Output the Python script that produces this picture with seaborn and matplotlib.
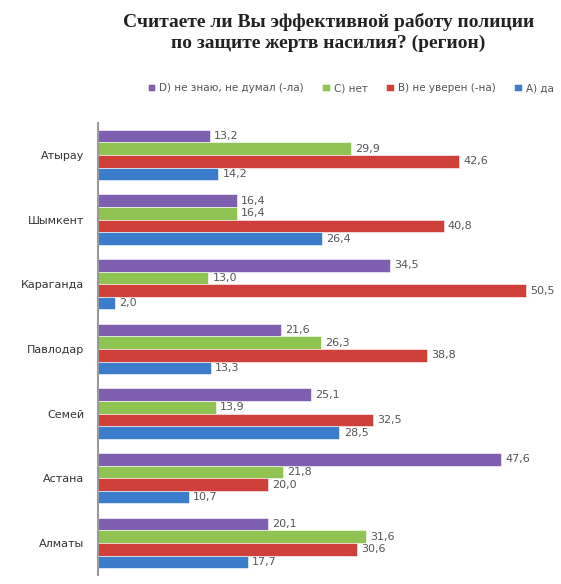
import matplotlib
matplotlib.use('Agg')
import matplotlib.pyplot as plt
import seaborn as sns
import pandas as pd

regions = ['Атырау', 'Шымкент', 'Караганда', 'Павлодар', 'Семей', 'Астана', 'Алматы']
answers = ['D) не знаю, не думал (-ла)', 'C) нет', 'B) не уверен (-на)', 'A) да']
d_vals = [13.2, 16.4, 34.5, 21.6, 25.1, 47.6, 20.1]
c_vals = [29.9, 16.4, 13.0, 26.3, 13.9, 21.8, 31.6]
b_vals = [42.6, 40.8, 50.5, 38.8, 32.5, 20.0, 30.6]
a_vals = [14.2, 26.4, 2.0, 13.3, 28.5, 10.7, 17.7]
colors = ['#7F5FB0', '#8FC452', '#D0403A', '#3B7DCB']

rows = []
for ans, vals in zip(answers, [d_vals, c_vals, b_vals, a_vals]):
    for reg, v in zip(regions, vals):
        rows.append({'region': reg, 'answer': ans, 'value': v})
df = pd.DataFrame(rows)

sns.set_style('white')
plt.rcParams['font.family'] = ['DejaVu Sans']

fig = plt.figure(figsize=(5.61, 5.84), dpi=100)
ax = fig.add_axes([0.175, 0.015, 0.815, 0.775])

sns.barplot(data=df, x='value', y='region', hue='answer', order=regions,
            hue_order=answers, palette=colors, saturation=1, orient='h', width=0.78,
            edgecolor='white', linewidth=0.4, ax=ax)

for cont in ax.containers:
    labels = ['{:.1f}'.format(v).replace('.', ',') for v in cont.datavalues]
    ax.bar_label(cont, labels=labels, padding=3, fontsize=8, color='#555555')

ax.set_xlim(0, 54)
ax.set_xlabel('')
ax.set_ylabel('')
ax.set_xticks([])
ax.tick_params(axis='y', length=0, pad=10, labelsize=8, labelcolor='#333333')
for s in ['top', 'right', 'bottom']:
    ax.spines[s].set_visible(False)
ax.spines['left'].set_color('#9a9a9a')
ax.spines['left'].set_linewidth(1.5)

handles, labels = ax.get_legend_handles_labels()
ax.get_legend().remove()
fig.legend(handles, labels, loc='center', bbox_to_anchor=(0.625, 0.849), ncol=4,
           frameon=False, fontsize=7.5, handlelength=0.7, handleheight=0.7,
           columnspacing=1.8, handletextpad=0.4, labelcolor='#555555')

fig.text(0.585, 0.944, 'Считаете ли Вы эффективной работу полиции\nпо защите жертв насилия? (регион)',
         ha='center', va='center', fontsize=14, fontweight='bold',
         family='Liberation Serif', color='#222222', linespacing=1.25)

fig.savefig('out.png', dpi=100)
